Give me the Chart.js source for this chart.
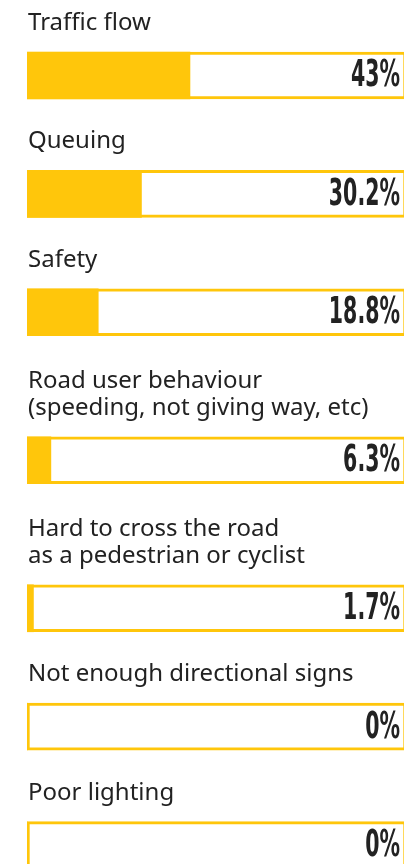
<!DOCTYPE html>
<html>
<head>
<meta charset="utf-8">
<script src="https://cdn.jsdelivr.net/npm/chart.js@4.4.1/dist/chart.umd.min.js"></script>
<style>
    html, body { margin: 0; padding: 0; background: #fff; overflow: hidden; }
    #wrap { position: relative; width: 410px; height: 888px; }
</style>
</head>
<body>
<div id="wrap"><canvas id="issuesChart"></canvas></div>
<script>
// Catégories (une entrée par ligne de texte) et valeurs en %
const categories = [
    ['Traffic flow'],
    ['Queuing'],
    ['Safety'],
    ['Road user behaviour', '(speeding, not giving way, etc)'],
    ['Hard to cross the road', 'as a pedestrian or cyclist'],
    ['Not enough directional signs'],
    ['Poor lighting']
];
const percentages = [43, 30.2, 18.8, 6.3, 1.7, 0, 0];
const valueLabels = ['43%', '30.2%', '18.8%', '6.3%', '1.7%', '0%', '0%'];

const YELLOW = '#FFC60B';

// Position de chaque barre sur l'axe y : une unité par ligne de libellé + 3 unités pour la barre
const rowPositions = [];
let cursor = 0;
categories.forEach(lines => {
    rowPositions.push(cursor + lines.length + 1.55);
    cursor += lines.length + 3;
});
const totalRows = cursor;

const valuePoints = percentages.map((v, i) => ({ x: v, y: rowPositions[i] }));
const framePoints = percentages.map((v, i) => ({ x: 100, y: rowPositions[i] }));

const labelPlugin = {
    id: 'labelPlugin',
    afterDatasetsDraw(chart) {
        const ctx = chart.ctx;
        const meta = chart.getDatasetMeta(0);
        const xScale = chart.scales.x;
        const left = xScale.getPixelForValue(0);
        const right = xScale.getPixelForValue(100);
        ctx.save();
        meta.data.forEach((bar, i) => {
            const top = bar.y - bar.height / 2;
            // libellé de catégorie au-dessus de la barre
            ctx.font = '24px "Noto Sans"';
            ctx.fillStyle = '#222';
            ctx.textAlign = 'left';
            ctx.textBaseline = 'alphabetic';
            const lines = categories[i];
            lines.forEach((line, k) => {
                const baseline = top - 22 - (lines.length - 1 - k) * 27;
                ctx.fillText(line, left + 1, baseline);
            });
            // valeur en % condensée, à droite dans la barre
            ctx.save();
            ctx.translate(right - 6, bar.y + 1);
            ctx.scale(0.6, 1);
            ctx.font = 'bold 38px "DejaVu Sans Condensed", "DejaVu Sans"';
            ctx.fillStyle = '#222';
            ctx.textAlign = 'right';
            ctx.textBaseline = 'middle';
            ctx.fillText(valueLabels[i], 0, 0);
            ctx.restore();
        });
        ctx.restore();
    }
};

new Chart(document.getElementById('issuesChart').getContext('2d'), {
    type: 'bar',
    data: {
        datasets: [
            {
                label: 'Share',
                data: valuePoints,
                backgroundColor: YELLOW,
                borderWidth: 0,
                grouped: false,
                barThickness: 47
            },
            {
                label: 'Frame',
                data: framePoints,
                backgroundColor: '#fff',
                borderColor: YELLOW,
                borderWidth: 3,
                borderSkipped: false,
                grouped: false,
                barThickness: 47
            }
        ]
    },
    options: {
        indexAxis: 'y',
        responsive: true,
        maintainAspectRatio: false,
        animation: false,
        layout: { padding: { left: 27, right: 4, top: 0, bottom: 0 } },
        plugins: {
            legend: { display: false },
            tooltip: { enabled: false }
        },
        scales: {
            x: { type: 'linear', min: 0, max: 100, display: false },
            y: { type: 'linear', min: 0, max: totalRows, reverse: true, offset: false, grace: 0, display: false }
        }
    },
    plugins: [labelPlugin]
});
</script>
</body>
</html>
